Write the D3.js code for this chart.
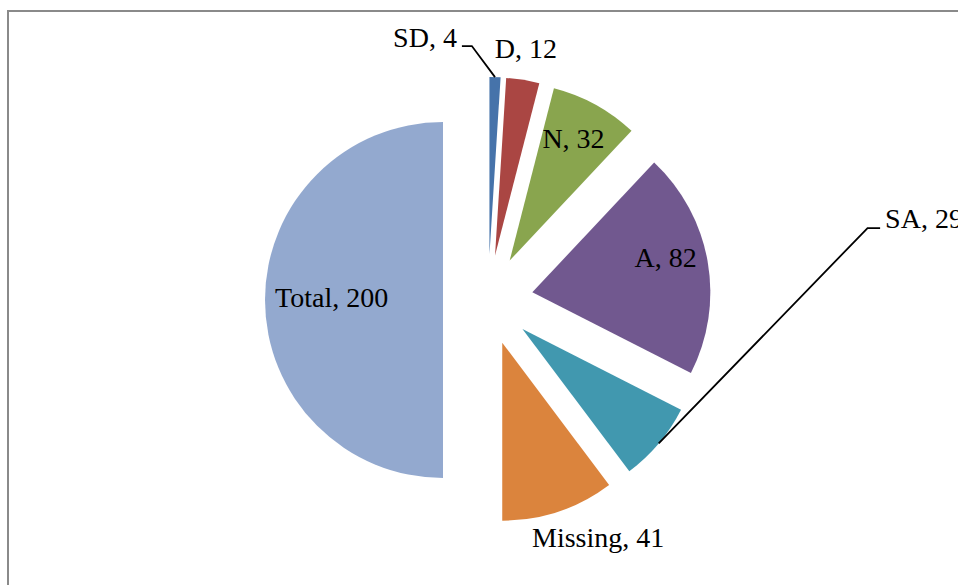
<!DOCTYPE html>
<html>
<head>
<meta charset="utf-8">
<script src="https://cdn.jsdelivr.net/npm/d3@7"></script>
<style>
  html, body { margin: 0; padding: 0; background: #fff; }
  svg { display: block; }
  .lbl { font-family: "Palatino Linotype", "Book Antiqua", "Liberation Serif", "DejaVu Serif", serif; font-size: 28px; fill: #000; }
</style>
</head>
<body>
<svg id="chart" width="958" height="585"></svg>
<script>
// Survey responses (counts), drawn as an exploded pie
const categories = ["SD", "D", "N", "A", "SA", "Missing", "Total"];
const counts     = [4, 12, 32, 82, 29, 41, 200];
const colors     = ["#4673AA", "#AA4643", "#89A54E", "#71588F", "#4198AF", "#DB843D", "#93A9CF"];

const W = 958, H = 585;
const cx = 488, cy = 300;      // pie centre
const R = 178;                 // slice radius
const explode = 45;            // outward shift of every slice

// Label placement per slice: angle (deg, clockwise from 12 o'clock) and distance in radii,
// measured from the slice's own (exploded) centre. Leader = elbow point for callouts.
const labelPlace = {
  SD:      { a: -16.5, k: 1.274, leader: { a: -4.8, k: 1.178 } },
  D:       { a: 8.5,   k: 1.176 },
  N:       { a: 27.6,  k: 0.774 },
  A:       { a: 75.2,  k: 0.774 },
  SA:      { a: 74.6,  k: 2.34,  leader: { a: 73.7, k: 2.02 } },
  Missing: { a: 153.8, k: 1.22 },
  Total:   { a: 271.3, k: 0.626 }
};

const svg = d3.select("#chart");

// chart-area border
svg.append("rect")
  .attr("x", 8).attr("y", 11)
  .attr("width", W + 40).attr("height", H + 40)
  .attr("fill", "none")
  .attr("stroke", "#8a8a8a")
  .attr("stroke-width", 2);

const data = categories.map((c, i) => ({ name: c, value: counts[i], color: colors[i] }));

const pie = d3.pie().sort(null).value(d => d.value).startAngle(0).endAngle(2 * Math.PI);
const arc = d3.arc().innerRadius(0).outerRadius(R);
const slices = pie(data);

const polar = (ox, oy, deg, dist) => {
  const t = deg * Math.PI / 180;
  return [ox + dist * Math.sin(t), oy - dist * Math.cos(t)];
};

const g = svg.append("g").attr("transform", `translate(${cx},${cy})`);

slices.forEach(s => {
  const mid = (s.startAngle + s.endAngle) / 2;
  s.ox = explode * Math.sin(mid);
  s.oy = -explode * Math.cos(mid);
  s.mid = mid;
});

g.selectAll("path.slice")
  .data(slices)
  .join("path")
  .attr("class", "slice")
  .attr("transform", d => `translate(${d.ox},${d.oy})`)
  .attr("d", arc)
  .attr("fill", d => d.data.color);

const labels = g.selectAll("text.lbl")
  .data(slices)
  .join("text")
  .attr("class", "lbl")
  .attr("text-anchor", "middle")
  .attr("dominant-baseline", "central")
  .each(function (d) {
    const p = labelPlace[d.data.name];
    const [x, y] = polar(d.ox, d.oy, p.a, p.k * R);
    d3.select(this).attr("x", x).attr("y", y);
  })
  .text(d => `${d.data.name}, ${d.data.value}`);

// leader lines for the callout labels
labels.each(function (d) {
  const p = labelPlace[d.data.name];
  if (!p.leader) return;
  const bb = this.getBBox();
  const start = polar(d.ox, d.oy, d.mid * 180 / Math.PI, R);
  const elbow = polar(d.ox, d.oy, p.leader.a, p.leader.k * R);
  const side = elbow[0] < bb.x ? bb.x - 5 : bb.x + bb.width + 5;
  g.append("path")
    .attr("d", d3.line()([start, elbow, [side, elbow[1]]]))
    .attr("fill", "none")
    .attr("stroke", "#000")
    .attr("stroke-width", 1.8);
});
</script>
</body>
</html>
